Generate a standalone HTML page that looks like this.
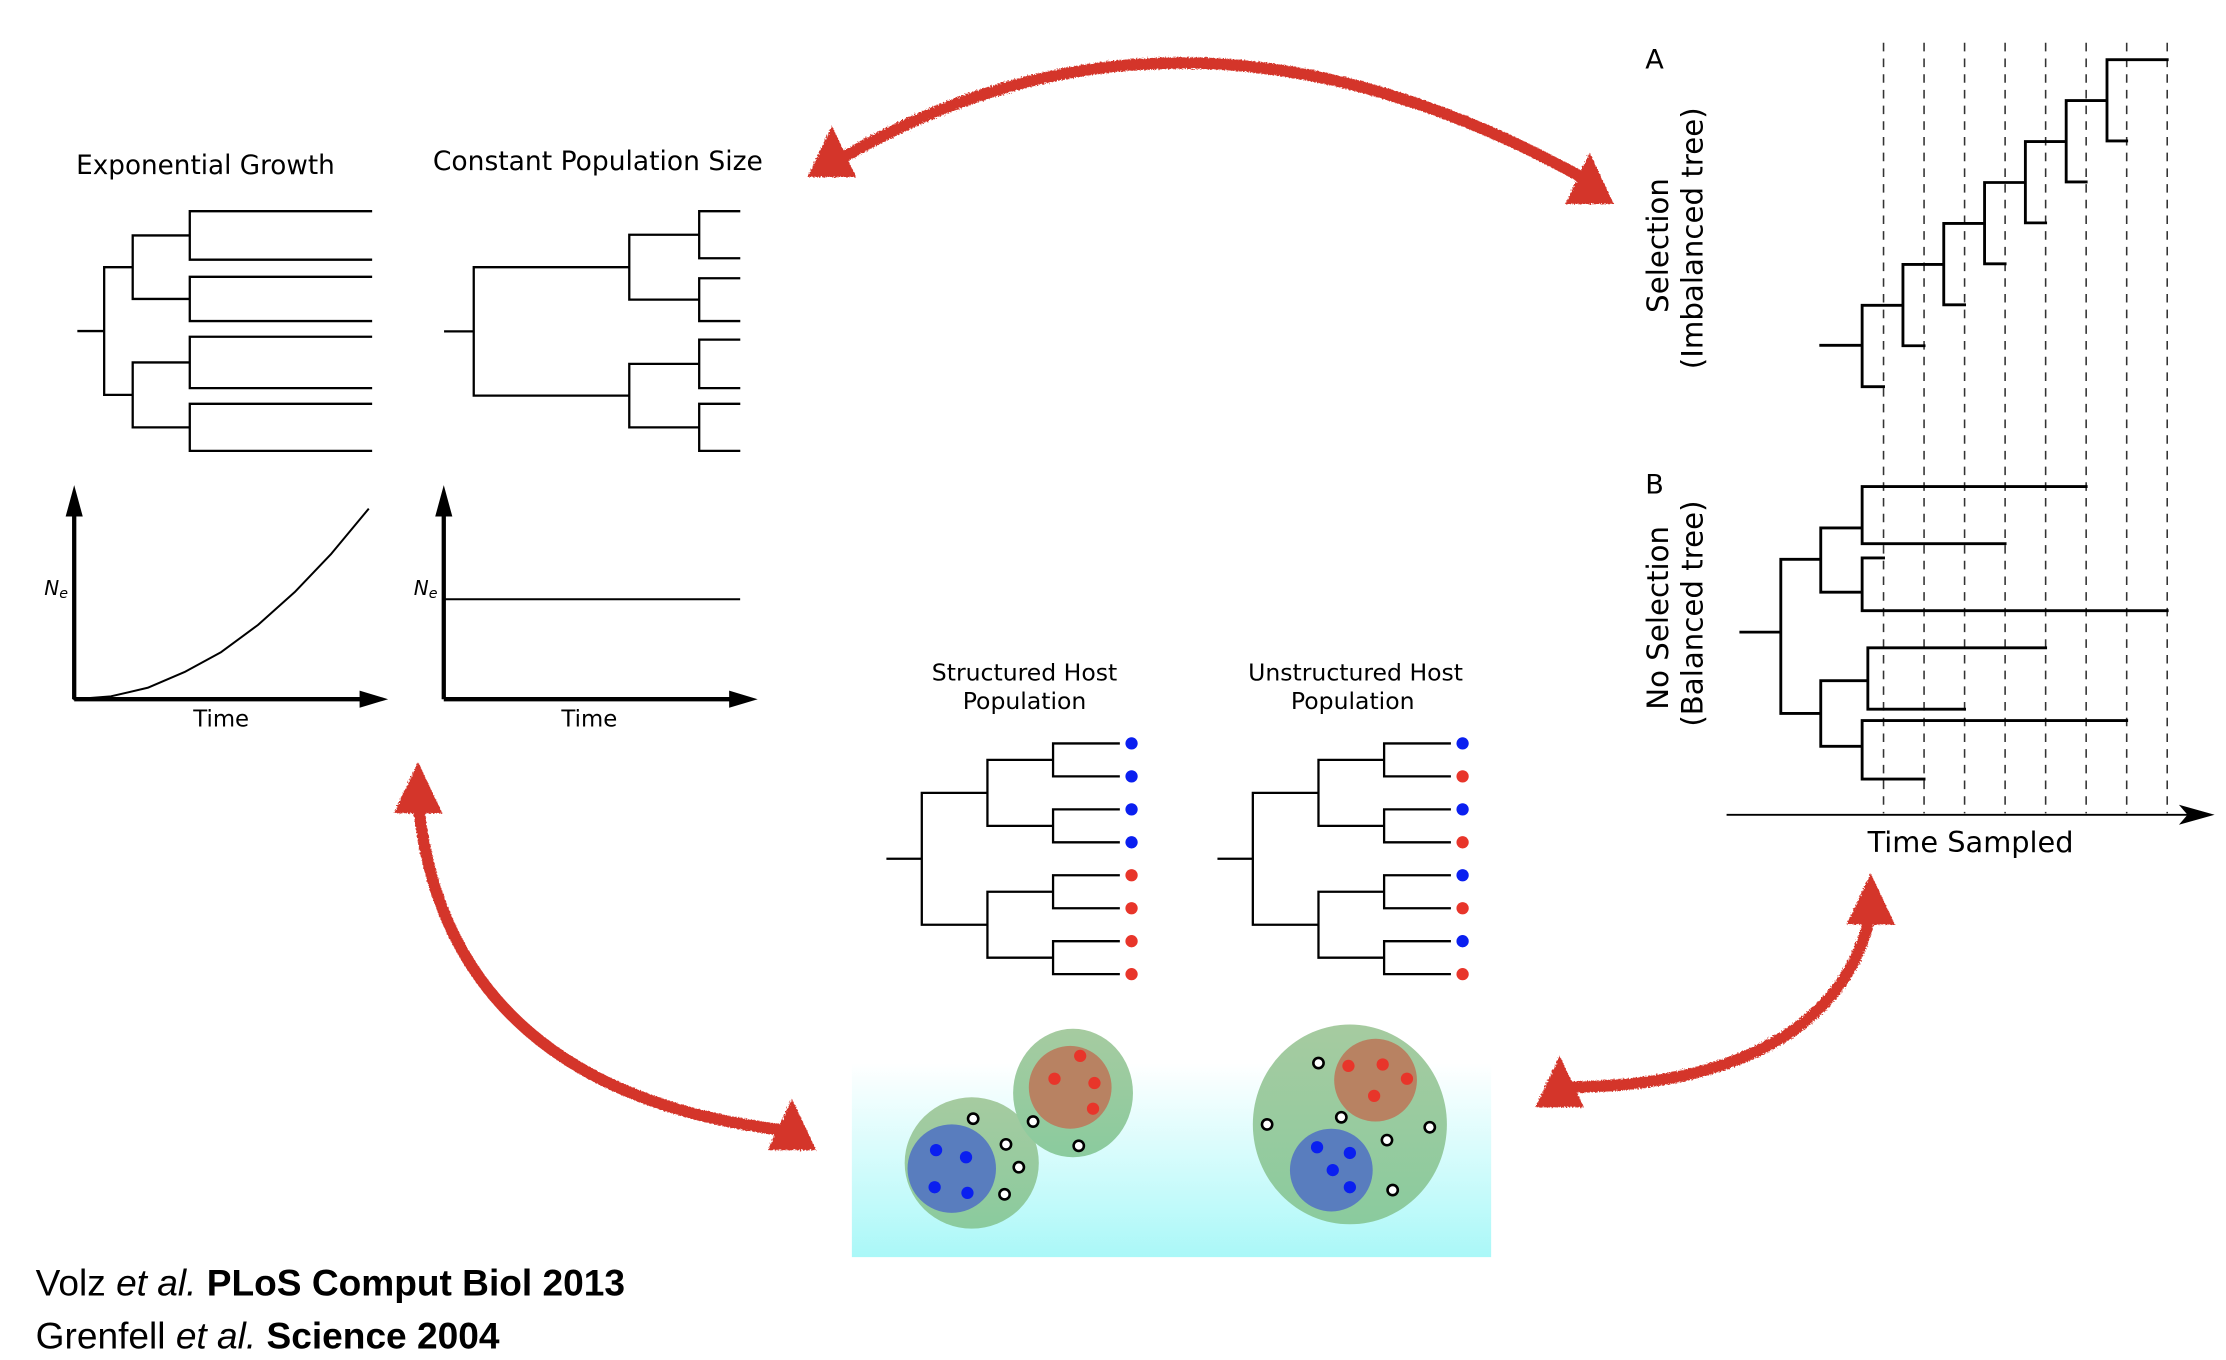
<!DOCTYPE html>
<html><head><meta charset="utf-8"><style>
html,body{margin:0;padding:0;background:#fff;}
svg{display:block;}
text{font-family:"DejaVu Sans","Liberation Sans",sans-serif;fill:#000;}
</style></head><body>
<svg id="fig" width="2226" height="1360" viewBox="0 0 1560 953.1" preserveAspectRatio="none" xmlns="http://www.w3.org/2000/svg">
<defs>
<linearGradient id="cyan" x1="0" y1="0" x2="0" y2="1"><stop offset="0" stop-color="#fff"/><stop offset="1" stop-color="#aaf8f8"/></linearGradient>
<linearGradient id="grn" x1="0" y1="0" x2="0" y2="1"><stop offset="0" stop-color="#a6cba0"/><stop offset="1" stop-color="#8acb9e"/></linearGradient>
<filter id="rough"><feTurbulence type="fractalNoise" baseFrequency="0.9" numOctaves="2" result="n"/><feDisplacementMap in="SourceGraphic" in2="n" scale="3"/></filter>
</defs>
<g id="layer" stroke-linecap="square"></g>
<text x="144" y="122" font-size="18.4" text-anchor="middle">Exponential Growth</text>
<text x="419" y="119" font-size="18.6" text-anchor="middle">Constant Population Size</text>
<text x="31" y="417" font-size="14" font-style="italic">N<tspan font-size="10" dy="2">e</tspan></text>
<text x="290" y="417" font-size="14" font-style="italic">N<tspan font-size="10" dy="2">e</tspan></text>
<text x="155" y="509" font-size="16" text-anchor="middle">Time</text>
<text x="413" y="509" font-size="16" text-anchor="middle">Time</text>
<text x="718" y="477" font-size="16.5" text-anchor="middle">Structured Host</text>
<text x="718" y="497" font-size="16.5" text-anchor="middle">Population</text>
<text x="950" y="477" font-size="16.5" text-anchor="middle">Unstructured Host</text>
<text x="948" y="497" font-size="16.5" text-anchor="middle">Population</text>
<text x="1153" y="48" font-size="19">A</text>
<text x="1153" y="346" font-size="19">B</text>
<text transform="translate(1169,172) rotate(-90)" font-size="20.5" text-anchor="middle">Selection</text>
<text transform="translate(1193,167) rotate(-90)" font-size="20.5" text-anchor="middle">(Imbalanced tree)</text>
<text transform="translate(1169,433) rotate(-90)" font-size="20.5" text-anchor="middle">No Selection</text>
<text transform="translate(1193,430) rotate(-90)" font-size="20.5" text-anchor="middle">(Balanced tree)</text>
<text x="1381" y="597" font-size="20.2" text-anchor="middle">Time Sampled</text>
<text x="25" y="908" font-size="26" style="font-family:'Liberation Sans',sans-serif">Volz <tspan font-style="italic">et al.</tspan> <tspan font-weight="bold">PLoS Comput Biol 2013</tspan></text>
<text x="25" y="945" font-size="26" style="font-family:'Liberation Sans',sans-serif">Grenfell <tspan font-style="italic">et al.</tspan> <tspan font-weight="bold">Science 2004</tspan></text>
</svg>
<script>
// ---- data ----
const expNe = [0, 2, 8, 19, 33, 52, 75, 102, 133];   // Ne over time (exp growth)
const constNe = [70, 70];                             // constant Ne
const sampleTimes = [0, 1, 2, 3, 4, 5, 6, 7];         // dashed sampling lines
const treeBTips = [5, 3, 0, 7, 4, 2, 6, 1];           // sampling index of each tip in tree B
const structuredColors = ['b','b','b','b','r','r','r','r'];
const unstructuredColors = ['b','r','b','r','b','r','b','r'];
const structRed = [[757,740],[739,756],[767,759],[766,777]];
const structBlue = [[656,806],[677,811],[655,832],[678,836]];
const structWhite = [[682,784],[705,802],[714,818],[704,837],[724,786],[756,803]];
const unRed = [[945,747],[969,746],[986,756],[963,768]];
const unBlue = [[923,804],[946,808],[934,820],[946,832]];
const unWhite = [[924,745],[888,788],[940,783],[1002,790],[972,799],[976,834]];

const NS = 'http://www.w3.org/2000/svg';
const L = document.getElementById('layer');
function mk(tag, attrs, name, parent) {
  const e = document.createElementNS(NS, tag);
  for (const k in attrs) e.setAttribute(k, attrs[k]);
  
  
  (parent || L).appendChild(e);
  return e;
}
function path(d, name, w, extra) {
  const a = {d: d, fill: 'none', stroke: '#000', 'stroke-width': w || 1.6};
  if (extra) for (const k in extra) a[k] = extra[k];
  return mk('path', a, name);
}
// ---- red arrows ----
const red = '#d4352c';
function arrow(d, heads, name) {
  const g = mk('g', {filter: 'url(#rough)'}, name);
  const p = document.createElementNS(NS, 'path');
  p.setAttribute('d', d); p.setAttribute('fill', 'none'); p.setAttribute('stroke', red); p.setAttribute('stroke-width', '8');
  
  
  g.appendChild(p);
  heads.forEach(h => {
    const t = document.createElementNS(NS, 'polygon');
    t.setAttribute('points', `${h[0]},${h[1]} ${h[0]-17},${h[1]+36} ${h[0]+17},${h[1]+36}`);
    t.setAttribute('fill', red);
    
    
    g.appendChild(t);
  });
}
arrow('M588,112 Q830,-30 1110,125', [[583,88],[1114,107]], 'top-arrow');
arrow('M293,560 C305,700 400,775 550,792', [[293,534],[555,770]], 'left-arrow');
arrow('M1312,635 C1295,730 1200,762 1095,762', [[1311,612],[1093,740]], 'right-arrow');

// ---- exponential tree ----
(function(){
  const ly = [148,182,194,225,236,272,283,316];
  const x0=55,x1=73,x2=93,x3=133,xe=260;
  const n3 = [0,1,2,3].map(i=>(ly[2*i]+ly[2*i+1])/2);
  const n2a = (n3[0]+n3[1])/2, n2b=(n3[2]+n3[3])/2, r=(n2a+n2b)/2;
  let d = `M${x0},${r}H${x1}M${x1},${n2a}V${n2b}M${x1},${n2a}H${x2}M${x1},${n2b}H${x2}`;
  d += `M${x2},${n3[0]}V${n3[1]}M${x2},${n3[2]}V${n3[3]}`;
  n3.forEach((y,i)=>{ d+=`M${x2},${y}H${x3}M${x3},${ly[2*i]}V${ly[2*i+1]}`; });
  ly.forEach(y=>{ d+=`M${x3},${y}H${xe}`; });
  path(d,'exp-growth-tree');
})();
// ---- constant tree ----
(function(){
  const ly = [148,181,195,225,238,272,283,316];
  const x0=312,x1=332,x2=441,x3=490,xe=518;
  const n3 = [0,1,2,3].map(i=>(ly[2*i]+ly[2*i+1])/2);
  const n2a=(n3[0]+n3[1])/2, n2b=(n3[2]+n3[3])/2, r=(n2a+n2b)/2;
  let d = `M${x0},${r}H${x1}M${x1},${n2a}V${n2b}M${x1},${n2a}H${x2}M${x1},${n2b}H${x2}`;
  d += `M${x2},${n3[0]}V${n3[1]}M${x2},${n3[2]}V${n3[3]}`;
  n3.forEach((y,i)=>{ d+=`M${x2},${y}H${x3}M${x3},${ly[2*i]}V${ly[2*i+1]}`; });
  ly.forEach(y=>{ d+=`M${x3},${y}H${xe}`; });
  path(d,'constant-size-tree');
})();
// ---- Ne plots ----
function axes(ox, xend, name){
  path(`M${ox},490V352M${ox},490H${xend-12}`, name+'-axes', 3, {'stroke-linecap':'butt'});
  mk('polygon',{points:`${ox},340 ${ox-6},362 ${ox+6},362`,fill:'#000'}, name+'-y-arrow');
  mk('polygon',{points:`${xend},490 ${xend-20},484 ${xend-20},496`,fill:'#000'}, name+'-x-arrow');
}
axes(52,272,'exp-plot'); axes(311,531,'const-plot');
(function(){
  const xs = t => 52 + t*(258-52)/(expNe.length-1);
  const ys = v => 490 - v;
  path('M'+expNe.map((v,i)=>`${xs(i)},${ys(v)}`).join('L'),'exp-growth-curve',1.4,{'stroke-linejoin':'round'});
  const xc = t => 311 + t*(518-311)/(constNe.length-1);
  path('M'+constNe.map((v,i)=>`${xc(i)},${ys(v)}`).join('L'),'constant-ne-line',1.4);
})();
// ---- selection panel ----
const dx = t => 1320 + t*28.4;
sampleTimes.forEach(t=>{ path(`M${dx(t)},30V570`,'sample-line',1.1,{'stroke-dasharray':'6,5','stroke':'#333','stroke-linecap':'butt'}); });
(function(){
  let d = `M1276,242H1305`;
  sampleTimes.slice(0,7).forEach(k=>{
    const x = 1305+28.6*k, top=214-28.7*k, bot=271-28.7*k;
    d += `M${x},${top}V${bot}M${x},${bot}H${dx(k)}M${x},${top}H${k<6?1305+28.6*(k+1):dx(7)}`;
  });
  path(d,'imbalanced-tree',2);
})();
(function(){
  const ly=[341,381,391,428,454,497,505,546];
  const nx=[1305,1305,1309,1305];
  let d='M1220,443H1248M1248,392V500M1248,392H1276M1248,500H1276M1276,370V415M1276,477V523';
  const n3=[370,415,477,523];
  n3.forEach((y,i)=>{ d+=`M1276,${y}H${nx[i]}M${nx[i]},${ly[2*i]}V${ly[2*i+1]}`; });
  ly.forEach((y,i)=>{ d+=`M${nx[Math.floor(i/2)]},${y}H${dx(treeBTips[i])}`; });
  path(d,'balanced-tree',2);
})();
path('M1210,571H1535','time-axis',1.3,{'stroke-linecap':'butt'});
mk('polygon',{points:'1552,571 1527,564 1533,571 1527,578',fill:'#000'},'time-axis-arrow');

// ---- host population trees ----
const cols = {b:'#0a1ff0', r:'#e8352a'};
function hostTree(off, colors, name){
  const ly = [0,1,2,3,4,5,6,7].map(i=>521+23.1*i);
  const x0=622+off,x1=646+off,x2=692+off,x3=738+off,xe=784+off;
  const n3=[0,1,2,3].map(i=>(ly[2*i]+ly[2*i+1])/2);
  const n2a=(n3[0]+n3[1])/2,n2b=(n3[2]+n3[3])/2,r=(n2a+n2b)/2;
  let d=`M${x0},${r}H${x1}M${x1},${n2a}V${n2b}M${x1},${n2a}H${x2}M${x1},${n2b}H${x2}M${x2},${n3[0]}V${n3[1]}M${x2},${n3[2]}V${n3[3]}`;
  n3.forEach((y,i)=>{ d+=`M${x2},${y}H${x3}M${x3},${ly[2*i]}V${ly[2*i+1]}`; });
  ly.forEach(y=>{ d+=`M${x3},${y}H${xe}`; });
  path(d,name,1.6);
  ly.forEach((y,i)=>{ mk('circle',{cx:793+off,cy:y,r:4.3,fill:cols[colors[i]]},name+'-tip-dot'); });
}
hostTree(0,structuredColors,'structured-tree');
hostTree(232,unstructuredColors,'unstructured-tree');

// ---- host population blobs ----
mk('rect',{x:597,y:745,width:448,height:136,fill:'url(#cyan)'},'host-background');
mk('ellipse',{cx:681,cy:815,rx:47,ry:46,fill:'url(#grn)'},'structured-host-left');
mk('ellipse',{cx:752,cy:766,rx:42,ry:45,fill:'url(#grn)'},'structured-host-right');
mk('circle',{cx:667,cy:819,r:31,fill:'#597dbe'},'blue-deme');
mk('circle',{cx:750,cy:762,r:29,fill:'#b88262'},'red-deme');
mk('ellipse',{cx:946,cy:788,rx:68,ry:70,fill:'url(#grn)'},'unstructured-host');
mk('circle',{cx:964,cy:757,r:29,fill:'#b88262'},'red-deme-unstructured');
mk('circle',{cx:933,cy:820,r:29,fill:'#597dbe'},'blue-deme-unstructured');
function dots(arr,fill,name,white){
  arr.forEach(p=>{
    if(white) mk('circle',{cx:p[0],cy:p[1],r:3.6,fill:'#fff',stroke:'#000','stroke-width':1.8},name);
    else mk('circle',{cx:p[0],cy:p[1],r:4.3,fill:fill},name);
  });
}
dots(structRed,'#e8352a','infected-red');
dots(structBlue,'#0a1ff0','infected-blue');
dots(structWhite,'#fff','susceptible',true);
dots(unRed,'#e8352a','infected-red');
dots(unBlue,'#0a1ff0','infected-blue');
dots(unWhite,'#fff','susceptible',true);
</script>
</body></html>
